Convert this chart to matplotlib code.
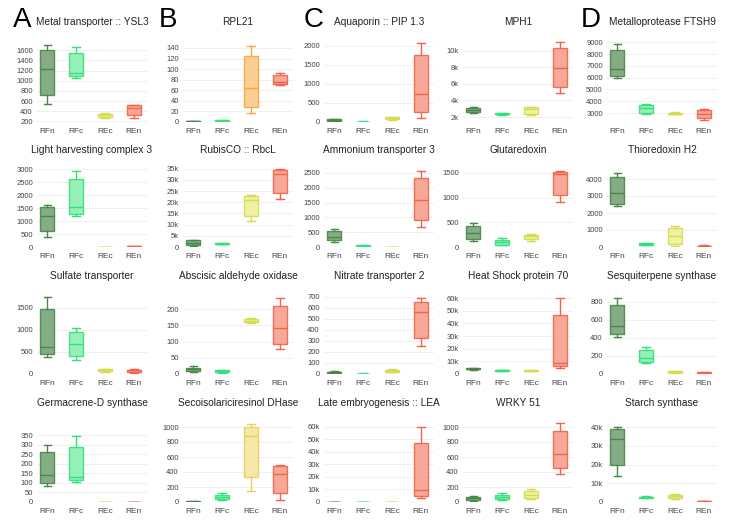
import numpy as np
import matplotlib.pyplot as plt
from matplotlib.ticker import FuncFormatter

plt.rcParams['font.family'] = ['Liberation Sans', 'DejaVu Sans']

# each group: [whislo, q1, median, q3, whishi] for RFn, RFc, REc, REn
groups = ["RFn", "RFc", "REc", "REn"]

ysl3 = [[540, 720, 1240, 1600, 1700], [1060, 1090, 1150, 1550, 1670],
        [270, 285, 320, 350, 370], [270, 330, 460, 520, 530]]
rpl21 = [[0.3, 0.5, 1, 1.3, 1.6], [1.5, 2, 2.5, 3, 3.3],
         [17, 28, 65, 125, 143], [70, 72, 76, 88, 92]]
pip13 = [[20, 30, 50, 80, 90], [5, 8, 10, 13, 15],
         [60, 70, 100, 120, 140], [100, 260, 730, 1750, 2080]]
mph1 = [[2500, 2600, 2900, 3100, 3200], [2300, 2350, 2400, 2450, 2500],
        [2300, 2400, 3000, 3200, 3250], [4900, 5600, 7900, 10300, 11000]]
ftsh9 = [[6000, 6150, 6750, 8350, 8900], [2900, 3000, 3400, 3650, 3800],
         [2900, 2920, 2950, 3020, 3050], [2450, 2550, 2900, 3250, 3350]]

lhc3 = [[400, 600, 1200, 1520, 1620], [1200, 1280, 1550, 2600, 2920],
        [0, 1, 3, 5, 6], [10, 15, 25, 35, 40]]
rbcl = [[300, 700, 2000, 3000, 3100], [1300, 1400, 1500, 1600, 1700],
        [11800, 14000, 21000, 22800, 23300], [21500, 24000, 32800, 34500, 35000]]
amt3 = [[180, 220, 350, 550, 620], [20, 30, 40, 55, 60],
        [0, 2, 5, 8, 10], [680, 900, 1600, 2320, 2570]]
grx = [[120, 160, 280, 430, 490], [40, 50, 110, 150, 190],
       [130, 160, 230, 250, 270], [920, 1050, 1480, 1510, 1530]]
trxh2 = [[2400, 2550, 3200, 4100, 4350], [100, 130, 180, 230, 250],
         [50, 150, 650, 1100, 1250], [30, 45, 60, 80, 90]]

sultr = [[390, 450, 620, 1470, 1750], [320, 400, 680, 960, 1050],
         [50, 60, 80, 110, 120], [20, 50, 80, 100, 110]]
aao = [[5, 8, 15, 20, 24], [4, 5, 9, 12, 13],
       [158, 160, 163, 170, 172], [77, 92, 143, 210, 233]]
nrt2 = [[8, 10, 15, 20, 25], [1, 2, 3, 4, 5],
        [15, 20, 30, 38, 42], [250, 330, 560, 650, 685]]
hsp70 = [[3500, 3800, 4200, 4700, 5000], [2000, 2300, 2800, 3200, 3500],
         [2000, 2300, 2600, 2900, 3000], [5000, 6500, 9000, 47000, 60000]]
tps = [[410, 440, 530, 760, 840], [120, 130, 180, 260, 300],
       [10, 15, 20, 30, 35], [5, 10, 15, 20, 25]]

germd = [[85, 100, 140, 260, 300], [105, 115, 130, 290, 345],
         [0, 0.3, 0.5, 0.8, 1], [0, 0.5, 1, 1.5, 2]]
sdh = [[0, 2, 5, 8, 10], [30, 40, 70, 100, 120],
       [150, 330, 880, 1000, 1040], [30, 120, 380, 480, 500]]
lea = [[0, 50, 150, 250, 300], [0, 40, 100, 160, 200],
       [100, 150, 200, 250, 300], [3000, 5000, 9500, 47000, 60000]]
wrky51 = [[20, 30, 50, 70, 80], [30, 40, 70, 100, 120],
          [40, 60, 100, 150, 180], [380, 450, 640, 950, 1050]]
starch = [[14000, 20000, 34000, 39000, 40000], [2000, 2200, 2500, 2800, 3000],
          [1500, 2000, 3000, 4000, 4500], [200, 300, 450, 600, 700]]

# title, data, ylim, (tick start, stop, step), k-format
panels = [
    [("Metal transporter :: YSL3", ysl3, (190, 1800), (200, 1600, 200), False),
     ("RPL21", rpl21, (0, 155), (0, 140, 20), False),
     ("Aquaporin :: PIP 1.3", pip13, (0, 2150), (0, 2000, 500), False),
     ("MPH1", mph1, (1400, 11300), (2000, 10000, 2000), True),
     ("Metalloprotease FTSH9", ftsh9, (2240, 9200), (3000, 9000, 1000), False)],
    [("Light harvesting complex 3", lhc3, (0, 3270), (0, 3000, 500), False),
     ("RubisCO :: RbcL", rbcl, (0, 38000), (0, 35000, 5000), True),
     ("Ammonium transporter 3", amt3, (0, 2870), (0, 2500, 500), False),
     ("Glutaredoxin", grx, (0, 1720), (0, 1500, 500), False),
     ("Thioredoxin H2", trxh2, (0, 5000), (0, 4000, 1000), False)],
    [("Sulfate transporter", sultr, (0, 1950), (0, 1500, 500), False),
     ("Abscisic aldehyde oxidase", aao, (0, 265), (0, 200, 50), False),
     ("Nitrate transporter 2", nrt2, (0, 780), (0, 700, 100), False),
     ("Heat Shock protein 70", hsp70, (0, 68000), (0, 60000, 10000), True),
     ("Sesquiterpene synthase", tps, (0, 950), (0, 800, 200), False)],
    [("Germacrene-D synthase", germd, (0, 440), (0, 350, 50), False),
     ("Secoisolariciresinol DHase", sdh, (0, 1120), (0, 1000, 200), False),
     ("Late embryogenesis :: LEA", lea, (0, 67000), (0, 60000, 10000), True),
     ("WRKY 51", wrky51, (0, 1120), (0, 1000, 200), False),
     ("Starch synthase", starch, (0, 45000), (0, 40000, 10000), True)],
]

edge = ['#4a864a', '#34e07c', '#d6dc50', '#f2644a']
fill = ['#78a478', '#8cf0b0', '#eef09a', '#f7a08e']

W, H = 733, 523
fig = plt.figure(figsize=(W / 100, H / 100), dpi=100)

col_left = [37, 183, 324, 463, 607]
row_span = [(40, 122), (162, 247), (288, 374), (418, 502)]
title_y = [22, 150, 276, 403]

for r, row in enumerate(panels):
    y0, y1 = row_span[r]
    for c, (title, data, ylim, tk, kfmt) in enumerate(row):
        x0 = col_left[c]
        ax = fig.add_axes([x0 / W, 1 - y1 / H, 110 / W, (y1 - y0) / H])
        stats = [dict(whislo=d[0], q1=d[1], med=d[2], q3=d[3], whishi=d[4], fliers=[])
                 for d in data]
        bp = ax.bxp(stats, positions=[1, 2, 3, 4], widths=0.5, patch_artist=True,
                    showfliers=False, capwidths=0.25)
        for i in range(4):
            ec, fc = edge[i], fill[i]
            if title == "RPL21" and i == 2:
                ec, fc = '#f5a742', '#fbc98a'
            if title == "Secoisolariciresinol DHase" and i == 2:
                ec, fc = '#e8d05a', '#f6e6a0'
            bp['boxes'][i].set(facecolor=fc, edgecolor=ec, linewidth=1, alpha=0.9)
            bp['medians'][i].set(color=ec, linewidth=1)
            for ln in bp['whiskers'][2 * i:2 * i + 2] + bp['caps'][2 * i:2 * i + 2]:
                ln.set(color=ec, linewidth=1)
        ax.set_xlim(0.65, 4.45)
        ax.set_ylim(*ylim)
        ax.set_yticks(np.arange(tk[0], tk[1] + tk[2], tk[2]))
        if kfmt:
            ax.yaxis.set_major_formatter(FuncFormatter(
                lambda v, p: "0" if v == 0 else "%dk" % (v / 1000)))
        ax.set_xticks([1, 2, 3, 4])
        ax.set_xticklabels(groups)
        ax.tick_params(axis='y', length=0, pad=3, labelsize=5.5, labelcolor='#444444')
        ax.tick_params(axis='x', length=0, pad=4, labelsize=6, labelcolor='#444444')
        ax.grid(axis='y', color='#eeeeee', linewidth=0.6)
        ax.set_axisbelow(True)
        for s in ax.spines.values():
            s.set_visible(False)
        if ylim[0] <= 0:
            ax.axhline(0, color='#cccccc', linewidth=0.8, zorder=0.5)
        fig.text((x0 + 55) / W, 1 - title_y[r] / H, title, ha='center', va='center',
                 fontsize=7.3, color='#222222')

for lab, x in zip("ABCD", [22, 168, 314, 591]):
    fig.text(x / W, 1 - 20 / H, lab, ha='center', va='center', fontsize=20,
             color='black')

fig.savefig("out.png", dpi=100)
